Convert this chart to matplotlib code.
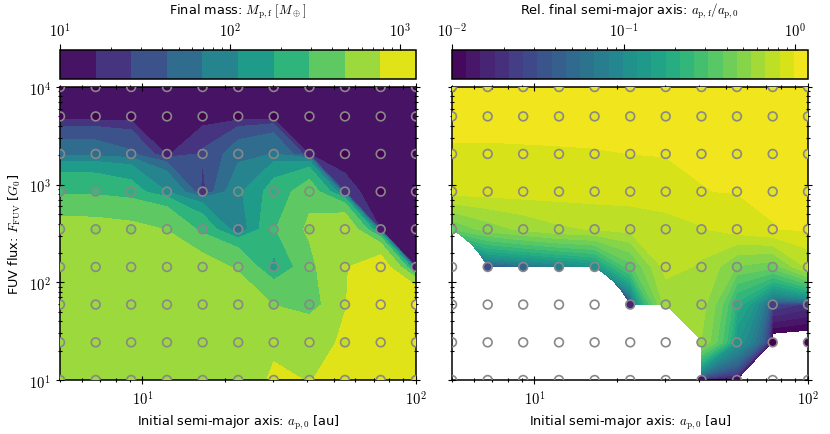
import numpy as np
import matplotlib
matplotlib.use('Agg')
import matplotlib.pyplot as plt
from matplotlib.colors import LogNorm
from matplotlib.ticker import FuncFormatter, NullFormatter, LogLocator

nan = np.nan

# grid of simulations
a_init = [5.0, 6.75, 9.1, 12.3, 16.6, 22.4, 30.2, 40.8, 55.0, 74.3, 100.0]
fuv_flux = [10.0, 24.3, 59.2, 143.7, 349.4, 849.4, 2063.0, 5000.0, 10000.0]

# final planet mass [M_earth], rows follow fuv_flux (bottom -> top)
mass_final = [
    [600, 600, 600, 600, 600, 600, 820, 760, 900, 1000, 1000],
    [600, 600, 600, 600, 600, 600, 690, 700, 800, 1000, 1000],
    [600, 600, 600, 600, 600, 600, 470, 350, 760, 1100, 1250],
    [600, 600, 600, 600, 560, 450, 150, 420, 750, 1000, 14],
    [548, 540, 520, 470, 250, 60, 280, 520, 700, 14, 10],
    [267, 260, 220, 110, 20, 100, 220, 380, 20, 10, 10],
    [55, 55, 45, 15, 28, 55, 70, 15, 10, 10, 10],
    [10, 10, 10, 10, 10, 10, 10, 10, 10, 10, 10],
    [10, 10, 10, 10, 10, 10, 10, 10, 10, 10, 10],
]

# final / initial semi-major axis (nan = planet lost)
a_rel = [
    [nan, nan, nan, nan, nan, nan, nan, 0.012, 0.011, nan, nan],
    [nan, nan, nan, nan, nan, nan, nan, 0.55, 0.12, 0.007, 0.007],
    [nan, nan, nan, nan, nan, 0.016, 0.6, 0.6, 0.2, 0.025, 0.02],
    [nan, 0.029, 0.048, 0.074, 0.11, 0.35, 0.72, 0.65, 0.45, 0.4, 0.7],
    [0.38, 0.5, 0.58, 0.65, 0.68, 0.72, 0.75, 0.8, 0.9, 0.98, 1.0],
    [0.88, 0.89, 0.9, 0.9, 0.91, 0.9, 0.93, 0.98, 0.99, 1.0, 1.0],
    [0.978, 0.978, 0.979, 0.98, 0.981, 0.983, 0.99, 1.0, 1.0, 1.0, 1.0],
    [1.0, 1.0, 1.0, 1.0, 1.0, 1.0, 1.0, 1.0, 1.0, 1.0, 1.0],
    [1.0, 1.0, 1.0, 1.0, 1.0, 1.0, 1.0, 1.0, 1.0, 1.0, 1.0],
]

mass_range = (10.0, 1250.0)
arel_range = (0.01, 1.19)

plt.rcParams['mathtext.fontset'] = 'cm'
plt.rcParams['font.family'] = 'DejaVu Sans'
plt.rcParams['font.size'] = 9.3

fig = plt.figure(figsize=(8.3, 4.35), dpi=100)
ax1 = fig.add_axes([0.0723, 0.1241, 0.4289, 0.6736])
ax2 = fig.add_axes([0.5446, 0.1241, 0.4289, 0.6736])
cax1 = fig.add_axes([0.0723, 0.8161, 0.4289, 0.0678])
cax2 = fig.add_axes([0.5446, 0.8161, 0.4289, 0.0678])

X, Y = np.meshgrid(a_init, fuv_flux)
pow10 = FuncFormatter(lambda v, p: r'$10^{%d}$' % round(np.log10(v)))

panels = [
    (ax1, cax1, np.array(mass_final, float), mass_range, 11,
     r'Final mass: $M_\mathrm{p,f}\ [M_\oplus]$'),
    (ax2, cax2, np.array(a_rel, float), arel_range, 26,
     r'Rel. final semi-major axis: $a_\mathrm{p,f}/a_\mathrm{p,0}$'),
]

for ax, cax, Z, (lo, hi), nlev, label in panels:
    norm = LogNorm(lo, hi)
    levels = np.logspace(np.log10(lo), np.log10(hi), nlev)
    cs = ax.contourf(X, Y, Z, levels=levels, norm=norm, cmap='viridis')
    ax.scatter(X, Y, c=Z, norm=norm, cmap='viridis', s=40,
               edgecolors='#888888', linewidths=1.2, plotnonfinite=True,
               zorder=3)
    ax.set_xscale('log')
    ax.set_yscale('log')
    ax.set_xlim(5, 100)
    ax.set_ylim(10, 1e4)
    ax.set_xlabel(r'Initial semi-major axis: $a_\mathrm{p,0}$ [au]')
    ax.xaxis.set_major_formatter(pow10)
    ax.yaxis.set_major_formatter(pow10)
    ax.xaxis.set_minor_formatter(NullFormatter())
    ax.yaxis.set_minor_formatter(NullFormatter())
    ax.tick_params(which='both', direction='inout', top=True, right=True,
                   width=0.8, labelsize=10.5)
    ax.tick_params(which='major', length=6)
    ax.tick_params(which='minor', length=3.5)
    for sp in ax.spines.values():
        sp.set_linewidth(1.1)

    cb = fig.colorbar(cs, cax=cax, orientation='horizontal',
                      ticklocation='top')
    cb.set_label(label, labelpad=5)
    cax.xaxis.set_major_locator(LogLocator(base=10))
    cax.xaxis.set_minor_locator(LogLocator(base=10, subs=np.arange(2, 10)))
    cax.xaxis.set_major_formatter(pow10)
    cax.xaxis.set_minor_formatter(NullFormatter())
    cax.set_xlim(lo, hi)
    cax.tick_params(which='major', length=4, width=0.8, labelsize=10.5)
    cax.tick_params(which='minor', length=2.5, width=0.6)
    cb.outline.set_linewidth(1.1)

ax1.set_ylabel(r'FUV flux: $F_\mathrm{FUV}$ [$G_0$]')
ax2.tick_params(labelleft=False)

fig.savefig('out.png', dpi=100)
